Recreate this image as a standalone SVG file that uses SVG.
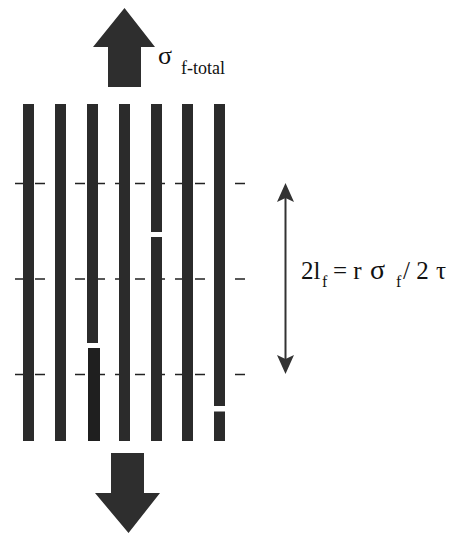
<svg xmlns="http://www.w3.org/2000/svg" width="450" height="536" viewBox="0 0 450 536">
<style>
.fiber{fill:#2b2b2b}
.dash{stroke:#222;stroke-width:1.6;stroke-dasharray:10 10;fill:none}
.big{fill:#2e2e2e}
text{font-family:'Liberation Serif','DejaVu Serif','Times New Roman',serif;fill:#111}
</style>
<rect width="450" height="536" fill="#fff"/>
<g id="connectors">
  <line class="dash" x1="15" y1="183.5" x2="248" y2="183.5"/>
  <line class="dash" x1="15" y1="279" x2="248" y2="279"/>
  <line class="dash" x1="15" y1="374.5" x2="248" y2="374.5"/>
  <g id="length-arrow">
    <line x1="285.5" y1="196" x2="285.5" y2="360" stroke="#333" stroke-width="2"/>
    <path d="M285.5 183 L294 202 L285.5 198 L277 202 Z" fill="#333"/>
    <path d="M285.5 374 L294 355 L285.5 359 L277 355 Z" fill="#333"/>
  </g>
</g>
<g id="fiber1"><rect class="fiber" x="23" y="104" width="11" height="337"/></g>
<g id="fiber2"><rect class="fiber" x="55" y="104" width="11" height="337"/></g>
<g id="fiber3"><rect class="fiber" x="87" y="104" width="11" height="239"/><rect class="fiber" x="88" y="348" width="12" height="93" style="fill:#1f1f1f"/></g>
<g id="fiber4"><rect class="fiber" x="119" y="104" width="11" height="337"/></g>
<g id="fiber5"><rect class="fiber" x="151" y="104" width="11" height="128"/><rect class="fiber" x="151" y="237" width="11" height="204"/></g>
<g id="fiber6"><rect class="fiber" x="182" y="104" width="11" height="337"/></g>
<g id="fiber7"><rect class="fiber" x="214" y="104" width="11" height="302"/><rect class="fiber" x="214" y="411.5" width="11" height="29.5"/></g>
<g id="top-arrow">
  <path class="big" d="M124.5 8 L155 47 L141 47 L141 87 L108 87 L108 47 L93 47 Z"/>
  <text x="158" y="64" font-size="26" font-family="Liberation Serif, DejaVu Serif, serif">σ</text>
  <text x="181" y="74" font-size="18" font-family="Liberation Serif, DejaVu Serif, serif">f-total</text>
</g>
<g id="bottom-arrow">
  <path class="big" d="M111 453 L144 453 L144 493 L160 493 L128.5 533 L95 493 L111 493 Z"/>
</g>
<g id="formula">
  <text y="279" font-size="25" font-family="Liberation Serif, DejaVu Serif, serif"><tspan x="301">2l</tspan><tspan x="322" y="287" font-size="16">f</tspan><tspan x="333" y="279">= r</tspan><tspan x="370" font-size="28">σ</tspan><tspan x="396" y="287" font-size="16">f</tspan><tspan x="403" y="279">/ 2</tspan><tspan x="436">τ</tspan></text>
</g>
</svg>
